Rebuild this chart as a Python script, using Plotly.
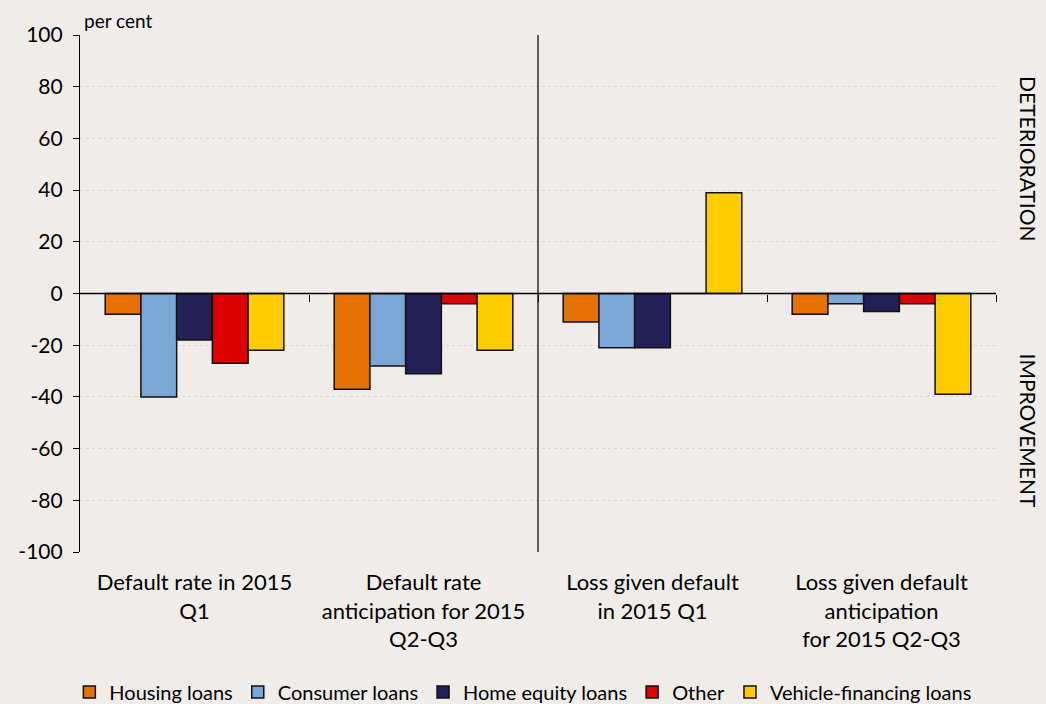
import plotly.graph_objects as go

categories = ["Default rate in 2015<br>Q1",
              "Default rate<br>anticipation for 2015<br>Q2-Q3",
              "Loss given default<br>in 2015 Q1",
              "Loss given default<br>anticipation<br>for 2015 Q2-Q3"]

housing = [-8, -37, -11, -8]
consumer = [-40, -28, -21, -4]
home_equity = [-18, -31, -21, -7]
other = [-27, -4, 0, -4]
vehicle = [-22, -22, 39, -39]

y_ticks = [-100, -80, -60, -40, -20, 0, 20, 40, 60, 80, 100]
y_tick_labels = ["-100", "-80", "-60", "-40", "-20", "0", "20", "40", "60", "80", "100"]

series = [("Housing loans", housing, "#E57200"),
          ("Consumer loans", consumer, "#7BA7D7"),
          ("Home equity loans", home_equity, "#222055"),
          ("Other", other, "#DD0000"),
          ("Vehicle-financing loans", vehicle, "#FFCC00")]

FONT = "Lato"
bg = "#EFECE9"

fig = go.Figure()
for name, vals, color in series:
    fig.add_trace(go.Bar(x=categories, y=vals, name=name,
                         marker=dict(color=color, line=dict(color="#111111", width=1.5))))

# zero line drawn on the linear overlay axis
fig.add_trace(go.Scatter(x=[-0.5, 3.5], y=[0, 0], xaxis="x2", mode="lines",
                         line=dict(color="black", width=1.5), showlegend=False, hoverinfo="skip"))

# divider between default-rate and loss-given-default groups
fig.add_vline(x=1.5, xref="x2", line=dict(color="black", width=1.2))

fig.update_layout(
    width=1046, height=704,
    paper_bgcolor=bg, plot_bgcolor=bg,
    font=dict(family=FONT, size=20, color="black"),
    margin=dict(l=80, r=50, t=35, b=152, autoexpand=False),
    barmode="group", bargap=0.22, bargroupgap=0,
    xaxis=dict(range=[-0.5, 3.5], showline=False, ticks="", showgrid=False,
               tickfont=dict(size=22), ticklabelstandoff=15, automargin=False),
    xaxis2=dict(overlaying="x", range=[-0.5, 3.5], anchor="free", position=0.5,
                showline=False, showgrid=False, showticklabels=False, zeroline=False,
                tickmode="array", tickvals=[0.5, 1.5, 2.5, 3.5],
                ticks="outside", ticklen=7, tickcolor="black", tickwidth=1.2),
    yaxis=dict(range=[-100, 100], tickmode="array", tickvals=y_ticks, ticktext=y_tick_labels,
               showline=True, linecolor="black", linewidth=1.2,
               ticks="outside", ticklen=6, tickcolor="black", ticklabelstandoff=6,
               showgrid=True, gridcolor="#D9D6D3", griddash="dot", gridwidth=1,
               zeroline=False, tickfont=dict(size=21), automargin=False),
    legend=dict(orientation="h", x=0.484, xanchor="center", y=-0.271, yanchor="middle",
                font=dict(size=20), itemwidth=30, traceorder="normal", bgcolor="rgba(0,0,0,0)"),
    showlegend=True,
)

fig.add_annotation(text="per cent", xref="paper", yref="paper", x=0.002, y=1.0,
                   xanchor="left", yanchor="bottom", yshift=1, showarrow=False, font=dict(size=19))
fig.add_annotation(text="DETERIORATION", xref="paper", yref="paper", x=1.036, y=0.76,
                   textangle=90, xanchor="center", yanchor="middle", showarrow=False,
                   font=dict(size=21))
fig.add_annotation(text="IMPROVEMENT", xref="paper", yref="paper", x=1.036, y=0.235,
                   textangle=90, xanchor="center", yanchor="middle", showarrow=False,
                   font=dict(size=21))

fig.write_html("out.html", config={"displayModeBar": False},
               post_script="document.body.style.margin='0';document.body.style.overflow='hidden';")
